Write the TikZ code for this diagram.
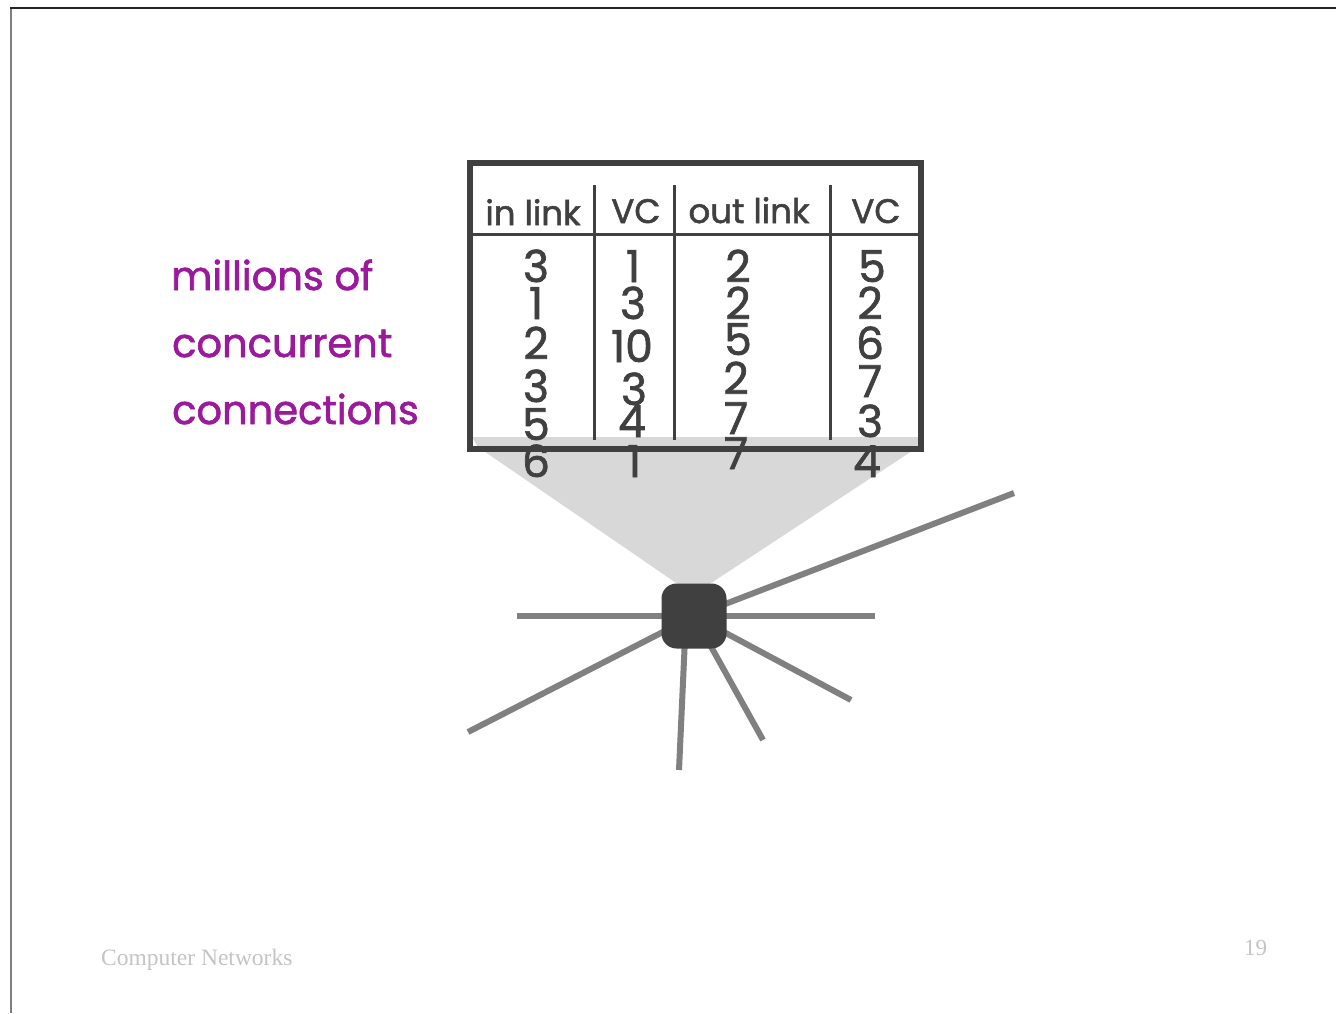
\documentclass[tikz,border=0pt]{standalone}
\usepackage{fontspec}
\setmainfont{Poppins}[AutoFakeBold=1.6]
\newfontfamily\footfont{Liberation Serif}
\definecolor{tabgray}{HTML}{404040}
\definecolor{linkgray}{HTML}{808080}
\definecolor{fangray}{HTML}{D8D8D8}
\definecolor{purp}{HTML}{9B1A9B}
\definecolor{footgray}{HTML}{C4C4C4}
\tikzset{
  hdr/.style={anchor=base, inner sep=0pt, text=tabgray, font=\fontsize{34}{34}\selectfont\bfseries},
  dig/.style={anchor=base, inner sep=0pt, text=tabgray, font=\fontsize{44}{44}\selectfont\bfseries},
  side/.style={anchor=base west, inner sep=0pt, text=purp, font=\fontsize{40}{40}\selectfont\bfseries},
  link/.style={draw=linkgray, line width=6pt},
  sep/.style={draw=tabgray, line width=3pt},
}
\begin{document}
\begin{tikzpicture}[x=1pt,y=-1pt]
\useasboundingbox (0,0) rectangle (1336,1013);
% slide frame
\draw[line width=2pt, draw=linkgray] (11,8) -- (11,1013);
\draw[line width=2pt, draw=black!85] (10,8) -- (1336,8);
% fan
\fill[fangray] (472,437) -- (918,437) -- (918,447) -- (705,587) -- (682,587) -- (478,447) -- cycle;
% table
\draw[line width=6pt, draw=tabgray] (470,163) rectangle (921,449);
\draw[sep] (472,234) -- (918,234);
\draw[sep] (594,185) -- (594,440);
\draw[sep] (674,185) -- (674,440);
\draw[sep] (830,185) -- (830,440);
\node[hdr] (h1) at (533,225) {in link};
\node[hdr] (h2) at (636,223) {VC};
\node[hdr] (h3) at (749,223) {out link};
\node[hdr] (h4) at (876,223) {VC};
% column 1
\node[dig] (a1) at (536,282) {3};
\node[dig] (a2) at (536,319) {1};
\node[dig] (a3) at (536,359) {2};
\node[dig] (a4) at (536,402) {3};
\node[dig] (a5) at (536,440) {5};
\node[dig] (a6) at (536,477) {6};
% column 2
\node[dig] (b1) at (633,282) {1};
\node[dig] (b2) at (633,319) {3};
\node[dig] (b3) at (632,362) {10};
\node[dig] (b4) at (634,405) {3};
\node[dig] (b5) at (632,437) {4};
\node[dig] (b6) at (634,477) {1};
% column 3
\node[dig] (c1) at (738,282) {2};
\node[dig] (c2) at (738,319) {2};
\node[dig] (c3) at (738,355) {5};
\node[dig] (c4) at (736,394) {2};
\node[dig] (c5) at (736,434) {7};
\node[dig] (c6) at (736,469) {7};
% column 4
\node[dig] (d1) at (872,282) {5};
\node[dig] (d2) at (870,319) {2};
\node[dig] (d3) at (870,359) {6};
\node[dig] (d4) at (870,397) {7};
\node[dig] (d5) at (870,437) {3};
\node[dig] (d6) at (867,477) {4};
% side text
\node[side] (t1) at (171,290) {millions of};
\node[side] (t2) at (172,357) {concurrent};
\node[side] (t3) at (172,424) {connections};
% router links
\coordinate (rc) at (694,616);
\coordinate (eW) at (517,616);
\coordinate (eE) at (875,616);
\coordinate (eNE) at (1014,493);
\coordinate (eSW) at (468,732);
\coordinate (eS) at (679,770);
\coordinate (eS1) at (763,740);
\coordinate (eS2) at (851,700);
\draw[link] (eW) -- (eE);
\draw[link] (rc) -- (eNE);
\draw[link] (rc) -- (eSW);
\draw[link] (686,616) -- (eS);
\draw[link] (rc) -- (eS1);
\draw[link] (rc) -- (eS2);
\node[fill=tabgray, rounded corners=15pt, minimum width=65pt, minimum height=65pt, inner sep=0pt] (r) at (rc) {};
% footer
\node[anchor=base west, inner sep=0pt, text=footgray, font=\footfont\fontsize{23.5}{23.5}\selectfont] (f1) at (101,965) {Computer Networks};
\node[anchor=base west, inner sep=0pt, text=footgray, font=\footfont\fontsize{23}{23}\selectfont] (f2) at (1244,955) {19};
\end{tikzpicture}
\end{document}
